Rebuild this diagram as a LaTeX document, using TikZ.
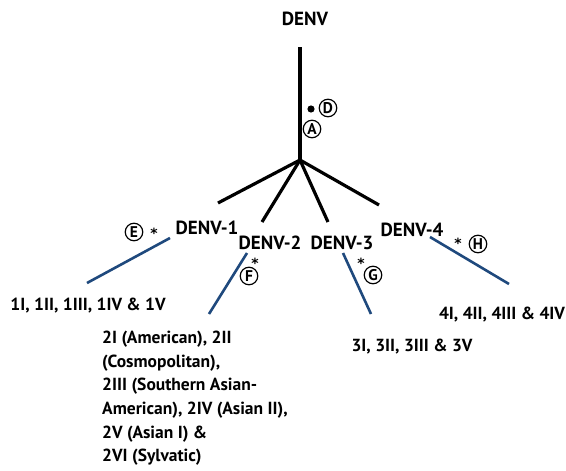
\documentclass[tikz,border=0pt]{standalone}
\usepackage{fontspec}
\setmainfont{PT Sans}
\newfontfamily\astfont{DejaVu Sans}
\definecolor{branchblue}{RGB}{31,73,125}
\begin{document}
\begin{tikzpicture}[x=1pt,y=-1pt,
  lbl/.style={font=\bfseries\fontsize{19}{22}\selectfont, inner sep=0pt},
  body/.style={font=\bfseries\fontsize{17.5}{23.6}\selectfont, inner sep=0pt, align=left},
  circ/.style={circle, draw, line width=1.2pt, inner sep=0pt, minimum size=17.5pt, font=\bfseries\fontsize{15.5}{15.5}\selectfont},
  ast/.style={font=\astfont\bfseries\fontsize{14}{14}\selectfont, inner sep=0pt},
  blk/.style={line width=3.2pt, black},
  blu/.style={line width=2.6pt, branchblue}]
\useasboundingbox (0,0) rectangle (566,471);
\node[lbl] (denv) at (305,19) {DENV};
\coordinate (top) at (300,47);
\coordinate (hub) at (300,160);
\coordinate (e1) at (218,203);
\coordinate (e2) at (262,222);
\coordinate (e3) at (328,222);
\coordinate (e4) at (379,205);
\draw[blk] (top) -- (hub);
\draw[blk] (hub) -- (e1);
\draw[blk] (hub) -- (e2);
\draw[blk] (hub) -- (e3);
\draw[blk] (hub) -- (e4);
\fill (311,109) circle (3.6pt);
\node[circ] (cD) at (328,108) {D};
\node[circ] (cA) at (312,129) {A};

\node[lbl] (d1) at (207,228) {DENV-1};
\node[lbl] (d2) at (270,243) {DENV-2};
\node[lbl] (d3) at (342,243) {DENV-3};
\node[lbl] (d4) at (412,230) {DENV-4};

\coordinate (b1s) at (170,238);
\coordinate (b1e) at (87,283);
\coordinate (b2s) at (247,253);
\coordinate (b2e) at (209,314);
\coordinate (b3s) at (343,253);
\coordinate (b3e) at (371,314);
\coordinate (b4s) at (430,237);
\coordinate (b4e) at (509,284);
\draw[blu] (b1s) -- (b1e);
\draw[blu] (b2s) -- (b2e);
\draw[blu] (b3s) -- (b3e);
\draw[blu] (b4s) -- (b4e);

\node[circ] (cE) at (134,232) {E};
\node[ast] (sE) at (154,233) {*};
\node[circ] (cF) at (249,276) {F};
\node[ast] (sF) at (255,263) {*};
\node[circ] (cG) at (373,275) {G};
\node[ast] (sG) at (361,263) {*};
\node[circ] (cH) at (478,244) {H};
\node[ast] (sH) at (458,243) {*};

\node[body] (t1) at (88,306) {1I, 1II, 1III, 1IV \& 1V};
\node[body, anchor=north west] (t2) at (102,331) {2I (American), 2II\\(Cosmopolitan),\\2III (Southern Asian-\\American), 2IV (Asian II),\\2V (Asian I) \&\\2VI (Sylvatic)};
\node[body] (t3) at (412,347) {3I, 3II, 3III \& 3V};
\node[body] (t4) at (502,315) {4I, 4II, 4III \& 4IV};
\end{tikzpicture}
\end{document}
